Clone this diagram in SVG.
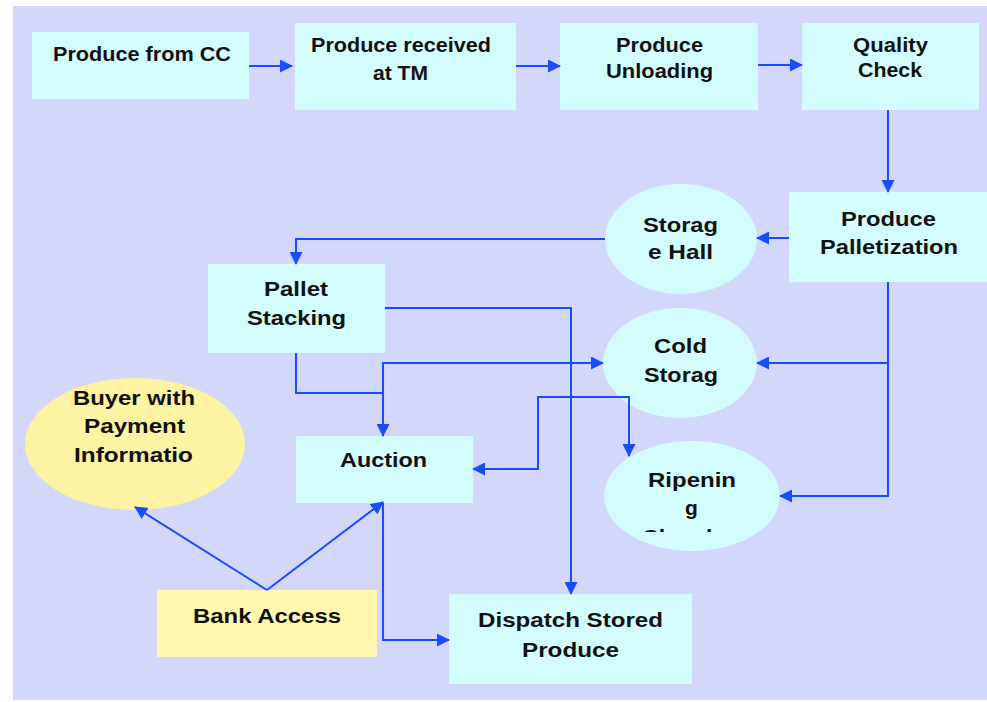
<svg xmlns="http://www.w3.org/2000/svg" width="987" height="702" viewBox="0 0 987 702">
  <defs>
    <marker id="ah" markerWidth="13" markerHeight="13" refX="12" refY="6.5" orient="auto" markerUnits="userSpaceOnUse">
      <path d="M0,0 L13,6.5 L0,13 z" fill="#1a4cff"/>
    </marker>
    <clipPath id="ripClip">
      <rect x="600" y="440" width="190" height="92"/>
    </clipPath>
  </defs>
  <style>
    .box { fill: #d3fcfc; }
    .oval { fill: #d3fcfc; }
    .ybox { fill: #fff7b0; }
    .yoval { fill: #fcf3a3; }
    .lbl { font-family: "Liberation Sans", Arial, sans-serif; font-weight: bold; font-size: 21px; fill: #111; text-anchor: middle; }
    .conn { fill: none; stroke: #1a4cff; stroke-width: 2; marker-end: url(#ah); }
    .conn-plain { fill: none; stroke: #1a4cff; stroke-width: 2; }
  </style>

  <rect x="0" y="0" width="987" height="702" fill="#ffffff"/>
  <rect x="13" y="6" width="974" height="694" fill="#d3d7fa"/>

  <!-- process nodes -->
  <g id="produce-from-cc">
    <rect class="box" x="32" y="32" width="217" height="67"/>
    <text class="lbl" x="142" y="61" textLength="178" lengthAdjust="spacingAndGlyphs">Produce from CC</text>
  </g>
  <g id="produce-received">
    <rect class="box" x="295" y="23" width="221" height="87"/>
    <text class="lbl" x="401" y="52" textLength="180" lengthAdjust="spacingAndGlyphs">Produce received</text>
    <text class="lbl" x="400.5" y="80" textLength="55" lengthAdjust="spacingAndGlyphs">at TM</text>
  </g>
  <g id="produce-unloading">
    <rect class="box" x="560" y="23" width="198" height="87"/>
    <text class="lbl" x="659.5" y="52" textLength="87" lengthAdjust="spacingAndGlyphs">Produce</text>
    <text class="lbl" x="659.5" y="78" textLength="107" lengthAdjust="spacingAndGlyphs">Unloading</text>
  </g>
  <g id="quality-check">
    <rect class="box" x="802" y="23" width="177" height="87"/>
    <text class="lbl" x="890.5" y="52" textLength="75" lengthAdjust="spacingAndGlyphs">Quality</text>
    <text class="lbl" x="890" y="77" textLength="64" lengthAdjust="spacingAndGlyphs">Check</text>
  </g>
  <g id="produce-palletization">
    <rect class="box" x="789" y="192" width="198" height="90"/>
    <text class="lbl" x="888.5" y="226" textLength="95" lengthAdjust="spacingAndGlyphs">Produce</text>
    <text class="lbl" x="889" y="254" textLength="138" lengthAdjust="spacingAndGlyphs">Palletization</text>
  </g>
  <g id="storage-hall">
    <ellipse class="oval" cx="681" cy="239" rx="76" ry="55"/>
    <text class="lbl" x="680.5" y="232" textLength="75" lengthAdjust="spacingAndGlyphs">Storag</text>
    <text class="lbl" x="680.5" y="259" textLength="65" lengthAdjust="spacingAndGlyphs">e Hall</text>
  </g>
  <g id="pallet-stacking">
    <rect class="box" x="208" y="264" width="177" height="89"/>
    <text class="lbl" x="296" y="296" textLength="64" lengthAdjust="spacingAndGlyphs">Pallet</text>
    <text class="lbl" x="296.5" y="325" textLength="99" lengthAdjust="spacingAndGlyphs">Stacking</text>
  </g>
  <g id="cold-storage">
    <ellipse class="oval" cx="680" cy="363" rx="77" ry="55"/>
    <text class="lbl" x="680.5" y="353" textLength="53" lengthAdjust="spacingAndGlyphs">Cold</text>
    <text class="lbl" x="681" y="382" textLength="74" lengthAdjust="spacingAndGlyphs">Storag</text>
  </g>
  <g id="ripening-chamber">
    <ellipse class="oval" cx="692" cy="496" rx="88" ry="55"/>
    <text class="lbl" x="692" y="487" textLength="88" lengthAdjust="spacingAndGlyphs">Ripenin</text>
    <text class="lbl" x="691.5" y="515">g</text>
    <text class="lbl" x="692" y="544" clip-path="url(#ripClip)" textLength="100" lengthAdjust="spacingAndGlyphs">Chamber</text>
  </g>
  <g id="buyer">
    <ellipse class="yoval" cx="135" cy="444" rx="110" ry="66"/>
    <text class="lbl" x="134" y="405" textLength="122" lengthAdjust="spacingAndGlyphs">Buyer with</text>
    <text class="lbl" x="134.5" y="433" textLength="101" lengthAdjust="spacingAndGlyphs">Payment</text>
    <text class="lbl" x="133.5" y="462" textLength="119" lengthAdjust="spacingAndGlyphs">Informatio</text>
  </g>
  <g id="auction">
    <rect class="box" x="296" y="436" width="177" height="67"/>
    <text class="lbl" x="383.5" y="467" textLength="87" lengthAdjust="spacingAndGlyphs">Auction</text>
  </g>
  <g id="bank-access">
    <rect class="ybox" x="157" y="590" width="220" height="67"/>
    <text class="lbl" x="267" y="623" textLength="148" lengthAdjust="spacingAndGlyphs">Bank Access</text>
  </g>
  <g id="dispatch">
    <rect class="box" x="449" y="594" width="243" height="90"/>
    <text class="lbl" x="570.5" y="627" textLength="185" lengthAdjust="spacingAndGlyphs">Dispatch Stored</text>
    <text class="lbl" x="570.5" y="657" textLength="97" lengthAdjust="spacingAndGlyphs">Produce</text>
  </g>

  <!-- connectors -->
  <g id="connectors">
    <path class="conn" d="M249,66 H292"/>
    <path class="conn" d="M516,66 H560"/>
    <path class="conn" d="M758,65 H802"/>
    <path class="conn" d="M888,110 V192"/>
    <path class="conn" d="M789,238 H757"/>
    <path class="conn" d="M605,239 H296 V264"/>
    <path class="conn" d="M385,308 H571 V594"/>
    <path class="conn" d="M296,353 V393 H383 V436"/>
    <path class="conn" d="M383,393 V363 H603"/>
    <path class="conn" d="M888,282 V496 H780"/>
    <path class="conn" d="M888,363 H757"/>
    <path class="conn" d="M629,397 H538 V469 H473"/>
    <path class="conn" d="M538,397 H629 V456"/>
    <path class="conn" d="M383,503 V640 H449"/>
    <path class="conn" d="M267,590 L383,502"/>
    <path class="conn" d="M267,590 L135,507"/>
  </g>
</svg>
